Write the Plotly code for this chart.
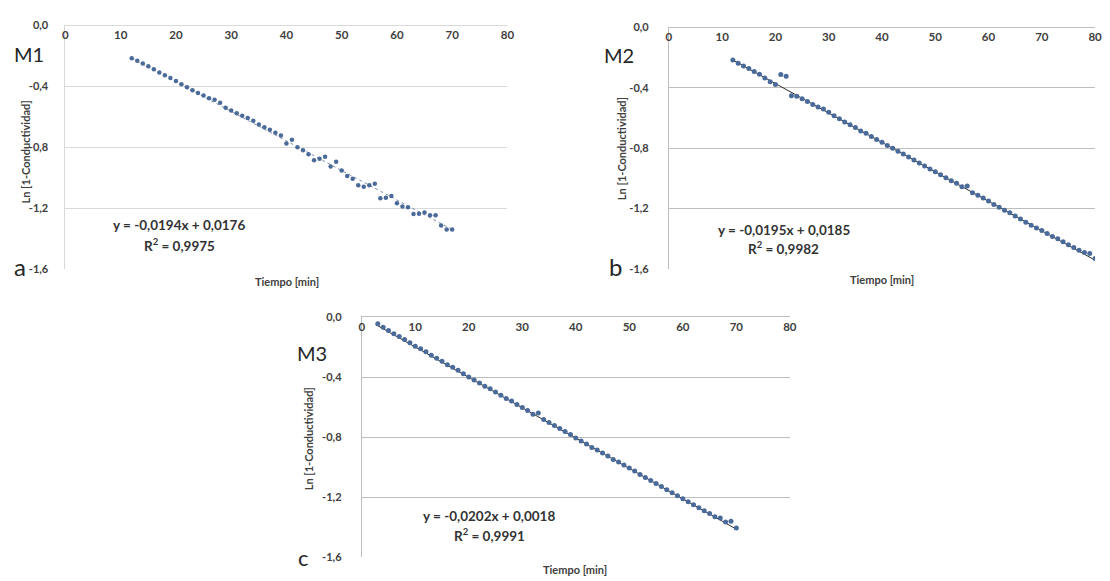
import plotly.graph_objects as go

# ---------------- data ----------------
t_a = list(range(12, 71))
ln_a = [-0.215, -0.232, -0.250, -0.268, -0.287, -0.308, -0.326, -0.345, -0.365, -0.385,
        -0.405, -0.425, -0.443, -0.460, -0.478, -0.488, -0.508, -0.540, -0.558, -0.576,
        -0.593, -0.607, -0.625, -0.650, -0.668, -0.685, -0.705, -0.722, -0.775, -0.750,
        -0.800, -0.820, -0.845, -0.885, -0.875, -0.863, -0.927, -0.895, -0.953, -0.989,
        -1.006, -1.050, -1.060, -1.050, -1.039, -1.135, -1.131, -1.120, -1.168, -1.190,
        -1.194, -1.239, -1.237, -1.228, -1.247, -1.247, -1.314, -1.340, -1.340]

t_b = list(range(12, 81))
ln_b = [-0.215, -0.236, -0.255, -0.272, -0.291, -0.310, -0.335, -0.360, -0.378, -0.312,
        -0.322, -0.452, -0.455, -0.472, -0.490, -0.510, -0.527, -0.540, -0.562, -0.585,
        -0.605, -0.626, -0.645, -0.663, -0.685, -0.700, -0.722, -0.742, -0.760, -0.782,
        -0.800, -0.820, -0.838, -0.858, -0.878, -0.898, -0.918, -0.938, -0.955, -0.975,
        -0.995, -1.015, -1.032, -1.055, -1.050, -1.095, -1.112, -1.130, -1.150, -1.172,
        -1.190, -1.210, -1.228, -1.248, -1.268, -1.290, -1.310, -1.328, -1.345, -1.365,
        -1.385, -1.400, -1.420, -1.440, -1.458, -1.475, -1.490, -1.498, -1.530]

t_c = list(range(3, 71))
ln_c = [-0.045, -0.068, -0.090, -0.112, -0.130, -0.150, -0.172, -0.195, -0.212, -0.232,
        -0.255, -0.275, -0.295, -0.318, -0.335, -0.355, -0.378, -0.400, -0.420, -0.440,
        -0.462, -0.478, -0.500, -0.522, -0.542, -0.560, -0.582, -0.603, -0.622, -0.648,
        -0.640, -0.682, -0.703, -0.722, -0.742, -0.762, -0.782, -0.805, -0.825, -0.845,
        -0.868, -0.885, -0.905, -0.925, -0.948, -0.965, -0.985, -1.005, -1.025, -1.048,
        -1.068, -1.088, -1.108, -1.128, -1.150, -1.170, -1.190, -1.210, -1.230, -1.250,
        -1.270, -1.290, -1.308, -1.330, -1.338, -1.365, -1.360, -1.405]

# trendline coefficients (as printed on the chart)
slope_a, icpt_a, r2_a = -0.0194, 0.0176, "0,9975"
slope_b, icpt_b, r2_b = -0.0195, 0.0185, "0,9982"
slope_c, icpt_c, r2_c = -0.0202, 0.0018, "0,9991"

eq_a = "y = -0,0194x + 0,0176"
eq_b = "y = -0,0195x + 0,0185"
eq_c = "y = -0,0202x + 0,0018"

x_ticks = [0, 10, 20, 30, 40, 50, 60, 70, 80]
y_ticks = [0.0, -0.4, -0.8, -1.2, -1.6]
y_ticktext = ["0,0", "-0,4", "-0,8", "-1,2", "-1,6"]
x_title = "Tiempo [min]"
y_title = "Ln [1-Conductividad]"

W, H = 1110, 581
FONT = "Lato"
MARK = "#4A6A9A"

fig = go.Figure()

panels = [
    # (t, ln, slope, icpt, xname, yname, dotted trend, marker size)
    (t_a, ln_a, slope_a, icpt_a, "x", "y", True, 4.5),
    (t_b, ln_b, slope_b, icpt_b, "x2", "y2", False, 5),
    (t_c, ln_c, slope_c, icpt_c, "x3", "y3", False, 5),
]
for t, ln, s, b, xa, ya, dotted, ms in panels:
    xs = [t[0], t[-1]]
    fig.add_trace(go.Scatter(
        x=xs, y=[s * v + b for v in xs], mode="lines", xaxis=xa, yaxis=ya,
        line=dict(color="#7f8fa8" if dotted else "#2a2a2a", width=1,
                  dash="dot" if dotted else "solid"),
        showlegend=False, hoverinfo="skip"))
    fig.add_trace(go.Scatter(
        x=t, y=ln, mode="markers", xaxis=xa, yaxis=ya,
        marker=dict(size=ms, color=MARK), showlegend=False))

def px_x(p):
    return p / W

def px_y(p):
    return 1 - p / H

def xaxis(dom, anchor, grid):
    return dict(domain=dom, anchor=anchor, range=[0, 80], tickvals=x_ticks, side="top",
                ticklabelposition="inside", ticklabeloverflow="allow", ticklabelstandoff=5,
                showgrid=False, zeroline=False, showline=True, linecolor=grid, linewidth=1,
                ticks="", tickfont=dict(family=FONT, size=11.5, color="#404040", weight="bold"),
                fixedrange=True)

def yaxis(dom, anchor, grid, standoff):
    return dict(domain=dom, anchor=anchor, range=[-1.6, 0], tickvals=y_ticks,
                ticktext=y_ticktext, showgrid=True, gridcolor=grid, gridwidth=1,
                zeroline=False, showline=True, linecolor=grid, linewidth=1, ticks="",
                ticklabelstandoff=standoff,
                tickfont=dict(family=FONT, size=11, color="#404040", weight="bold"),
                fixedrange=True)

grid_a = "#d9d9d9"
grid_bc = "#bdbdbd"
fig.update_layout(
    width=W, height=H, margin=dict(l=0, r=0, t=0, b=0),
    paper_bgcolor="white", plot_bgcolor="white",
    xaxis=xaxis([px_x(63), px_x(509)], "y", grid_a),
    yaxis=yaxis([px_y(268), px_y(19)], "x", grid_a, 14),
    xaxis2=xaxis([px_x(672), px_x(1102)], "y2", grid_bc),
    yaxis2=yaxis([px_y(268), px_y(21)], "x2", grid_bc, 17),
    xaxis3=xaxis([px_x(362), px_x(794)], "y3", grid_bc),
    yaxis3=yaxis([px_y(563), px_y(317)], "x3", grid_bc, 17),
)

def ann(text, x, y, size, weight="normal", angle=0, color="#262626"):
    fig.add_annotation(text=text, x=px_x(x), y=px_y(y), xref="paper", yref="paper",
                       showarrow=False, xanchor="center", yanchor="middle", textangle=angle,
                       font=dict(family=FONT, size=size, color=color, weight=weight))

# panel a
ann("M1", 26, 48, 20)
ann("a", 17, 265, 24)
ann(eq_a, 178, 223, 13.5, "bold", color="#333333")
ann("R<sup>2</sup> = " + r2_a, 178, 243, 13.5, "bold", color="#333333")
ann(x_title, 287, 281, 11, "bold", color="#404040")
ann(y_title, 23, 148, 11, "bold", -90, "#404040")
# panel b
ann("M2", 622, 49, 20)
ann("b", 618, 265, 24)
ann(eq_b, 788, 228, 13.5, "bold", color="#333333")
ann("R<sup>2</sup> = " + r2_b, 788, 247, 13.5, "bold", color="#333333")
ann(x_title, 887, 279, 11, "bold", color="#404040")
ann(y_title, 624, 145, 11, "bold", -90, "#404040")
# panel c
ann("M3", 312, 354, 20)
ann("c", 303, 563, 22)
ann(eq_c, 490, 521, 13.5, "bold", color="#333333")
ann("R<sup>2</sup> = " + r2_c, 491, 540, 13.5, "bold", color="#333333")
ann(x_title, 577, 575, 11, "bold", color="#404040")
ann(y_title, 308, 442, 11, "bold", -90, "#404040")

fig.write_html("out.html")
